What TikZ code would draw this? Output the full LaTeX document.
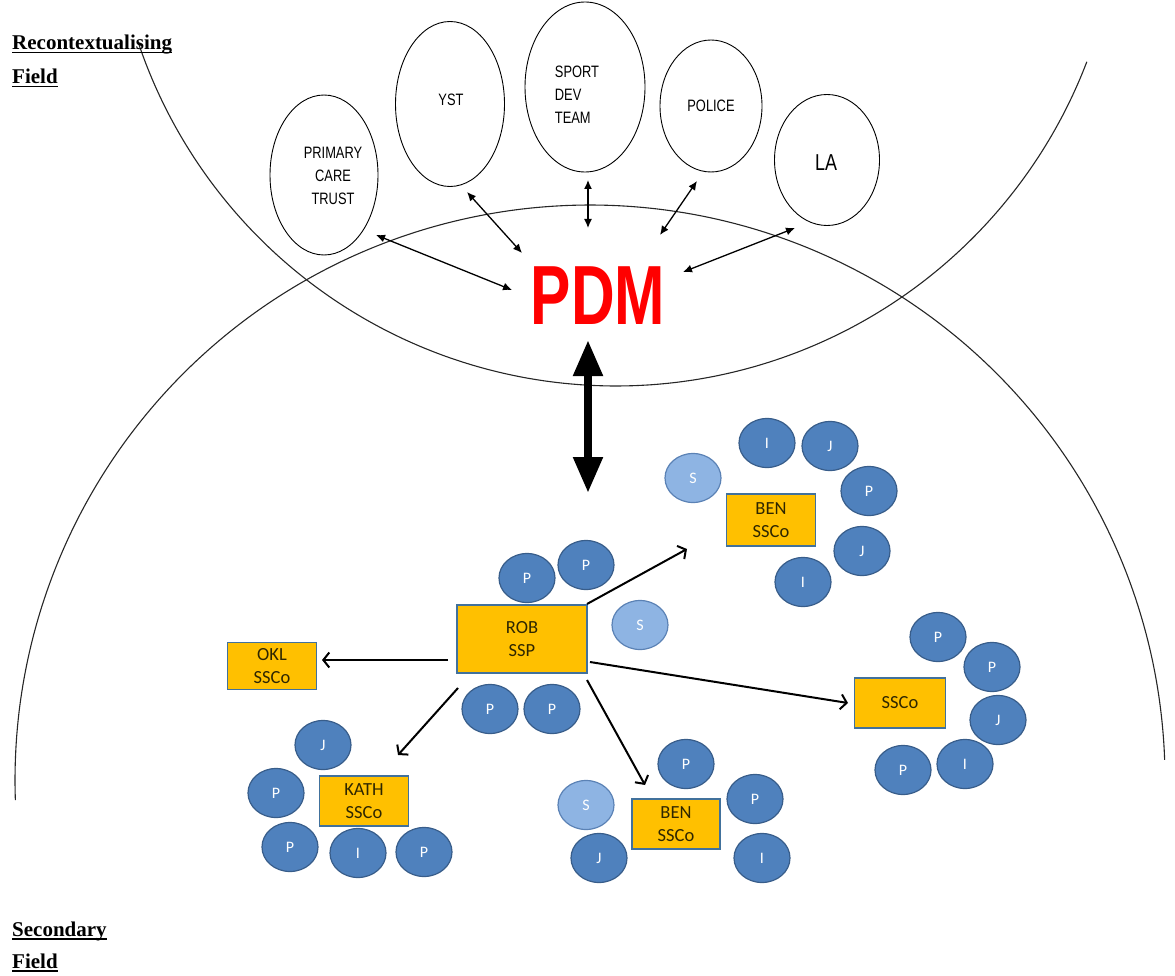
\documentclass[tikz,border=0pt]{standalone}
\usepackage{fontspec}
\setmainfont{Liberation Serif}
\newfontfamily\narrowsans{Liberation Sans}[FakeStretch=0.78]
\newfontfamily\pdmsans{Liberation Sans}[FakeStretch=0.72]
\newfontfamily\calib{Carlito}
\usetikzlibrary{shapes.geometric,arrows.meta}

\definecolor{boxfill}{HTML}{FFC000}
\definecolor{boxedge}{HTML}{41719C}
\definecolor{boxtext}{HTML}{2E2600}
\definecolor{pfill}{HTML}{4F81BD}
\definecolor{pedge}{HTML}{385D8A}
\definecolor{sfill}{HTML}{8EB4E3}
\definecolor{sedge}{HTML}{5B82B5}
\definecolor{pdmred}{HTML}{FF0000}

% heading with a heavy underline
\newcommand\hdrline[1]{\setbox0\hbox{#1}\rlap{\rule[-3.5pt]{\wd0}{1.8pt}}\box0}

\tikzset{
  agency/.style={ellipse, draw=black, line width=0.9pt, inner sep=0pt},
  etext/.style={inner sep=0pt, font=\narrowsans\fontsize{16.5}{23}\selectfont, text=black},
  heading/.style={anchor=base west, inner sep=0pt, font=\bfseries\fontsize{21}{21}\selectfont},
  fieldarc/.style={line width=1.1pt, black!85},
  link/.style={line width=1.3pt, {Latex[length=9pt,width=8pt]}-{Latex[length=9pt,width=8pt]}},
  bigarrow/.style={line width=8pt, {Triangle[length=36pt 0 0,width=28pt 0 0]}-{Triangle[length=36pt 0 0,width=28pt 0 0]}},
  flow/.style={line width=2pt, -{Straight Barb[length=6pt 0 0,width=15pt 0 0,line width=2pt]}},
  ssbox/.style={rectangle, draw=boxedge, fill=boxfill, line width=1.8pt, inner sep=0pt,
    text=boxtext, align=center, font=\calib\fontsize{18.5}{23}\selectfont},
  pc/.style={ellipse, fill=pfill, draw=pedge, line width=1.2pt, minimum width=56pt,
    minimum height=49pt, inner sep=0pt, text=white, font=\calib\fontsize{16}{16}\selectfont},
  sc/.style={pc, fill=sfill, draw=sedge}
}

\begin{document}
\begin{tikzpicture}[x=1pt,y=-1pt]
\useasboundingbox (0,0) rectangle (1175,976);

% field boundaries
\draw[fieldarc] plot[domain=20.9:161.7, samples=200, smooth]
  ({616+504*cos(\x)},{-118+504*sin(\x)});
\draw[fieldarc] plot[domain=178:358, samples=200, smooth]
  ({590+575*cos(\x)},{780+575*sin(\x)});

% field headings
\node[heading] (rf1) at (12,50) {\hdrline{Recontextualising}};
\node[heading] (rf2) at (12,84) {\hdrline{Field}};
\node[heading] (sf1) at (12,936) {\hdrline{Secondary}};
\node[heading] (sf2) at (12,968) {\hdrline{Field}};

% partner agencies
\node[agency, minimum width=108pt, minimum height=160pt] (pct) at (324,175) {};
\node[agency, minimum width=109pt, minimum height=165pt] (yst) at (450,104) {};
\node[agency, minimum width=120pt, minimum height=170pt] (sdt) at (585,87) {};
\node[agency, minimum width=102pt, minimum height=132pt] (pol) at (711,106) {};
\node[agency, minimum width=105pt, minimum height=131pt] (la) at (827,160) {};

\node[etext, align=center] (pctT) at (333,176) {PRIMARY\\CARE\\TRUST};
\node[etext] (ystT) at (451,100) {YST};
\node[etext, align=left] (sdtT) at (577,95) {SPORT\\DEV\\TEAM};
\node[etext] (polT) at (711,106) {POLICE};
\node[etext, font=\narrowsans\fontsize{23}{23}\selectfont] (laT) at (826,163) {LA};

% PDM
\node[inner sep=0pt, text=pdmred, font=\pdmsans\bfseries\fontsize{84}{84}\selectfont] (pdm) at (598,296) {PDM};

% connector ends
\coordinate (pctE) at (376,235);  \coordinate (pdmW)  at (512,290);
\coordinate (ystE) at (467,192);  \coordinate (pdmNW) at (522,253);
\coordinate (sdtE) at (588,180);  \coordinate (pdmN)  at (588,228);
\coordinate (polE) at (697,181);  \coordinate (pdmNE) at (660,235);
\coordinate (laE)  at (795,228);  \coordinate (pdmE)  at (683,272);
\coordinate (pdmS) at (588,340);  \coordinate (schN)  at (588,493);

\draw[link] (pctE) -- (pdmW);
\draw[link] (ystE) -- (pdmNW);
\draw[link] (sdtE) -- (pdmN);
\draw[link] (polE) -- (pdmNE);
\draw[link] (laE) -- (pdmE);
\draw[bigarrow] (pdmS) -- (schN);

% school sport partnership
\node[ssbox, minimum width=130pt, minimum height=68pt] (rob) at (522,639) {ROB\\SSP};
\node[ssbox, minimum width=89pt, minimum height=47pt] (okl) at (272,666) {OKL\\SSCo};
\node[ssbox, minimum width=89pt, minimum height=52pt] (ben1) at (771,520) {BEN\\SSCo};
\node[ssbox, minimum width=91pt, minimum height=50pt] (ssco) at (900,703) {SSCo};
\node[ssbox, minimum width=89pt, minimum height=50pt] (kath) at (364,801) {KATH\\SSCo};
\node[ssbox, minimum width=88pt, minimum height=50pt] (ben2) at (676,824) {BEN\\SSCo};

\coordinate (robL)  at (448,660);  \coordinate (oklR)  at (322,660);
\coordinate (robNE) at (587,604);  \coordinate (ben1W) at (687,549);
\coordinate (robE)  at (590,662);  \coordinate (sscoW) at (848,703);
\coordinate (robSW) at (458,688);  \coordinate (kathN) at (398,755);
\coordinate (robSE) at (587,680);  \coordinate (ben2N) at (645,785);

\draw[flow] (robL) -- (oklR);
\draw[flow] (robNE) -- (ben1W);
\draw[flow] (robE) -- (sscoW);
\draw[flow] (robSW) -- (kathN);
\draw[flow] (robSE) -- (ben2N);

% around ROB
\node[pc] (r1) at (527,578) {P};
\node[pc] (r2) at (586,565) {P};
\node[sc] (r3) at (640,625) {S};
\node[pc] (r4) at (490,709) {P};
\node[pc] (r5) at (552,709) {P};

% around BEN (upper)
\node[sc] (a1) at (693,478) {S};
\node[pc] (a2) at (767,443) {I};
\node[pc] (a3) at (830,446) {J};
\node[pc] (a4) at (869,491) {P};
\node[pc] (a5) at (862,551) {J};
\node[pc] (a6) at (803,582) {I};

% around SSCo
\node[pc] (c1) at (938,637) {P};
\node[pc] (c2) at (992,667) {P};
\node[pc] (c3) at (998,720) {J};
\node[pc] (c4) at (965,764) {I};
\node[pc] (c5) at (903,770) {P};

% around KATH
\node[pc] (k1) at (323,745) {J};
\node[pc] (k2) at (276,793) {P};
\node[pc] (k3) at (290,847) {P};
\node[pc] (k4) at (358,853) {I};
\node[pc] (k5) at (424,852) {P};

% around BEN (lower)
\node[pc] (b1) at (686,764) {P};
\node[sc] (b2) at (586,805) {S};
\node[pc] (b3) at (755,799) {P};
\node[pc] (b4) at (599,858) {J};
\node[pc] (b5) at (762,858) {I};
\end{tikzpicture}
\end{document}
